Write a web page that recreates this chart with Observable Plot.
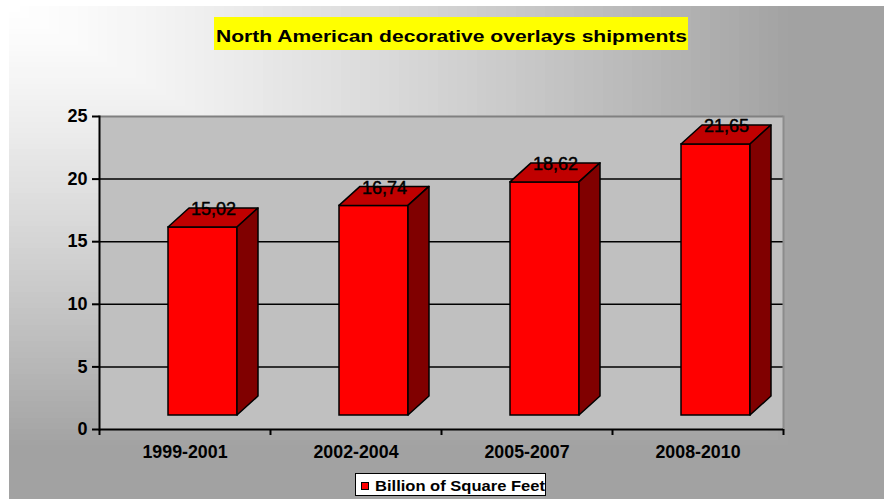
<!DOCTYPE html>
<html><head><meta charset="utf-8">
<script src="https://cdn.jsdelivr.net/npm/d3@7"></script>
<script src="https://cdn.jsdelivr.net/npm/@observablehq/plot@0.6"></script>
<style>
html,body{margin:0;padding:0;background:#fff;}
#chart{position:relative;width:884px;height:499px;overflow:hidden;font-family:"Liberation Sans",Arial,sans-serif;color:#000;}
#bg{position:absolute;left:9px;top:6px;right:0;bottom:0;overflow:hidden;}
#bg div{position:absolute;left:0;top:0;}
#plot{position:absolute;left:0;top:0;}
#title{position:absolute;left:214px;top:17px;width:474px;height:33px;background:#ffff00;overflow:visible;}
#title span{position:absolute;left:2px;top:0;white-space:nowrap;font-weight:bold;font-size:17px;line-height:33px;transform-origin:0 0;}
#legend{position:absolute;left:355px;top:473px;width:189px;height:21px;background:#fff;border:1.5px solid #000;}
#legend .sw{position:absolute;left:5px;top:8px;width:6px;height:6px;background:#ff0000;border:1px solid #000;}
#legend .tx{position:absolute;left:19px;top:0;white-space:nowrap;font-weight:bold;font-size:15px;line-height:24px;transform-origin:0 0;}
</style></head><body>
<div id="chart">
  <div id="bg"></div>
  <div id="plot"></div>
  <div id="title"><span></span></div>
  <div id="legend"><div class="sw"></div><span class="tx"></span></div>
</div>
<script>
// ---- data ----
const categories = ["1999-2001", "2002-2004", "2005-2007", "2008-2010"];
const values = [15.02, 16.74, 18.62, 21.65];
const yTicks = [0, 5, 10, 15, 20, 25];
const seriesName = "Billion of Square Feet";
const titleText = "North American decorative overlays shipments";

const data = categories.map((c, i) => ({cat: c, value: values[i]}));

// ---- layout constants ----
const DX = 18, DY = -14;        // front face offset
const DEPX = 21, DEPY = -19;    // 3D depth
const STEP = 171;
const fmt = v => d3.format(".2f")(v).replace(".", ",");

// background: corner gradient
(function () {
  const bg = document.getElementById("bg");
  const W = 875, H = 493, N = 90;
  for (let i = N; i >= 1; i--) {
    const t = i / N;
    const k = Math.pow(Math.min(t / 0.9, 1), 1.25);
    const c = Math.round(255 - 93 * k);
    const d = document.createElement("div");
    d.style.width = (t * W + 1) + "px";
    d.style.height = (t * H + 1) + "px";
    d.style.background = `rgb(${c},${c},${c})`;
    bg.appendChild(d);
  }
})();

function render3D(index, scales, values, dimensions, context) {
  const g = d3.create("svg:g");
  const bw = typeof scales.x.bandwidth === "function" ? scales.x.bandwidth() : 69;
  for (const i of index) {
    const xl = values.x[i] + DX, xr = xl + bw;
    const yt = Math.min(values.y1[i], values.y2[i]) + DY;
    const yb = Math.max(values.y1[i], values.y2[i]) + DY;
    g.append("polygon")
      .attr("points", [[xl, yt], [xl + DEPX, yt + DEPY], [xr + DEPX, yt + DEPY], [xr, yt]].map(p => p.join(",")).join(" "))
      .attr("fill", "#c00000").attr("stroke", "#000").attr("stroke-width", 1.5).attr("stroke-linejoin", "round");
    g.append("polygon")
      .attr("points", [[xr, yt], [xr + DEPX, yt + DEPY], [xr + DEPX, yb + DEPY], [xr, yb]].map(p => p.join(",")).join(" "))
      .attr("fill", "#800000").attr("stroke", "#000").attr("stroke-width", 1.5).attr("stroke-linejoin", "round");
  }
  return g.node();
}

const plot = Plot.plot({
  width: 884,
  height: 470,
  marginLeft: 99,
  marginRight: 101,
  marginTop: 116,
  marginBottom: 41,
  style: {background: "transparent", fontFamily: "'Liberation Sans', Arial, sans-serif", color: "#000", overflow: "visible"},
  x: {domain: categories, paddingInner: 0.596, paddingOuter: 0.298, label: null},
  y: {domain: [0, 25], label: null},
  marks: [
    Plot.frame({fill: "#c0c0c0", stroke: "none"}),
    Plot.ruleY(yTicks.filter(d => d > 0 && d < 25), {stroke: "#000", strokeWidth: 1.5}),
    Plot.ruleY([25], {stroke: "#808080", strokeWidth: 2}),
    Plot.frame({anchor: "right", stroke: "#8c8c8c", strokeWidth: 2}),
    Plot.barY(data, {x: "cat", y: "value", dx: DX, dy: DY, fill: "#ff0000", stroke: "#000", strokeWidth: 1.5}),
    Plot.barY(data, {x: "cat", y: "value", render: render3D}),
    Plot.text(data, {x: "cat", y: "value", text: d => fmt(d.value), dx: DX + DEPX / 2, dy: DY - 18,
      fontSize: 18, fill: "#000", stroke: "#000", strokeWidth: 0.45, lineAnchor: "middle", textAnchor: "middle"}),
    Plot.ruleY([0], {stroke: "#000", strokeWidth: 2}),
    Plot.frame({anchor: "left", stroke: "#000", strokeWidth: 2}),
    Plot.ruleX(categories, {x: d => d, y1: 0, y2: 0, dx: -STEP / 2, insetBottom: -6, stroke: "#000", strokeWidth: 2}),
    Plot.ruleX(categories.slice(-1), {x: d => d, y1: 0, y2: 0, dx: STEP / 2, insetBottom: -6, stroke: "#000", strokeWidth: 2}),
    Plot.axisY({ticks: yTicks, tickSize: 7, tickPadding: 5, fontSize: 18, fontWeight: "bold", strokeWidth: 2, label: null}),
    Plot.axisX({tickSize: 0, tickPadding: 16, fontSize: 17.8, fontWeight: "bold", label: null})
  ]
});
document.getElementById("plot").appendChild(plot);

// title & legend text
function fitWidth(el, target) {
  el.style.display = "inline-block";
  const w = el.getBoundingClientRect().width;
  if (w > 0) el.style.transform = `scaleX(${target / w})`;
}
const ts = document.querySelector("#title span");
ts.textContent = titleText;
fitWidth(ts, 471);
ts.style.top = "3px";
const lt = document.querySelector("#legend .tx");
lt.textContent = seriesName;
fitWidth(lt, 170);
</script>
</body></html>
